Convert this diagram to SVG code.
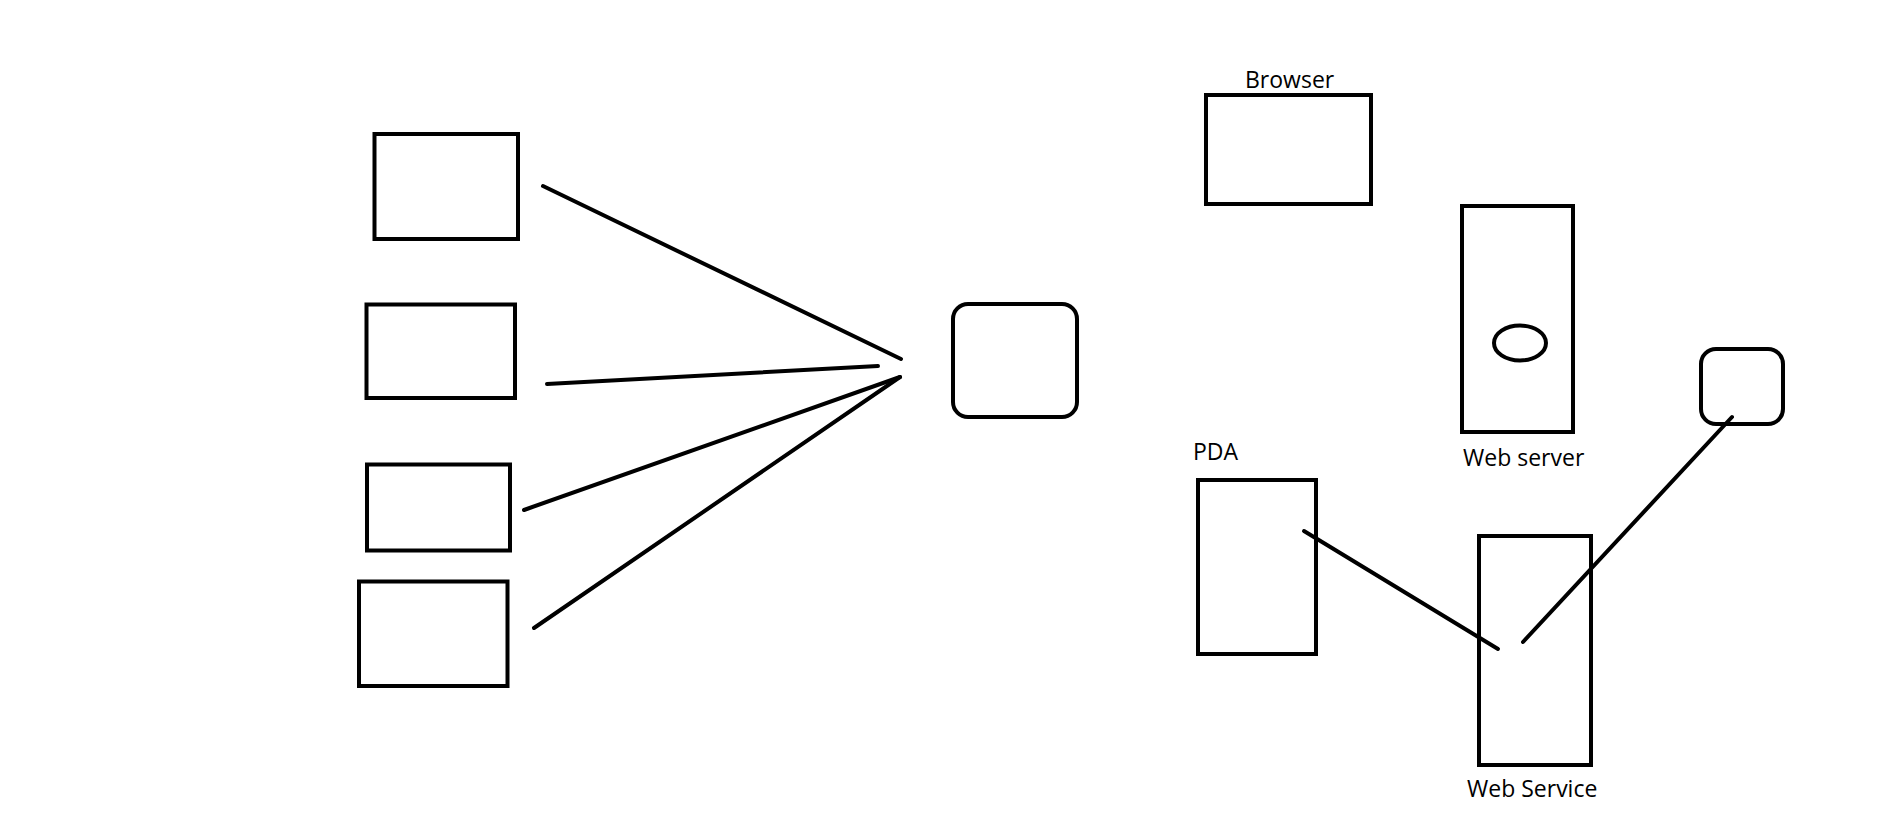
<svg xmlns="http://www.w3.org/2000/svg" width="1897" height="821" viewBox="0 0 1897 821">
<style>
.box{fill:none;stroke:#000;stroke-width:4}
.ln{stroke:#000;stroke-width:4;stroke-linecap:round;fill:none}
.lbl{font-family:"Open Sans","Liberation Sans",sans-serif;font-size:23px;fill:#000}
</style>
<rect width="1897" height="821" fill="#fff"/>
<g id="client1"><rect class="box" x="374.5" y="134" width="143.5" height="105"/></g>
<g id="client2"><rect class="box" x="366.5" y="304.5" width="148.5" height="93.5"/></g>
<g id="client3"><rect class="box" x="367" y="464.5" width="143" height="86"/></g>
<g id="client4"><rect class="box" x="359" y="581.5" width="148.5" height="104.5"/></g>
<g id="hub"><rect class="box" x="953" y="304" width="124" height="113" rx="15"/></g>
<g id="browser"><rect class="box" x="1206" y="95" width="165" height="109"/><text class="lbl" x="1245" y="88">Browser</text></g>
<g id="webserver"><rect class="box" x="1462" y="206" width="111" height="226"/><ellipse class="box" cx="1520" cy="343" rx="26" ry="17.5"/><text class="lbl" x="1463" y="466">Web server</text></g>
<g id="pda"><rect class="box" x="1198" y="480" width="118" height="174"/><text class="lbl" x="1193" y="460">PDA</text></g>
<g id="webservice"><rect class="box" x="1479" y="536" width="112" height="229"/><text class="lbl" x="1467" y="797">Web Service</text></g>
<g id="device"><rect class="box" x="1701" y="349" width="82" height="75" rx="15"/></g>
<g id="connectors">
<line class="ln" x1="543" y1="186" x2="901" y2="359"/>
<line class="ln" x1="547" y1="384" x2="878" y2="366"/>
<line class="ln" x1="524" y1="510" x2="900" y2="377"/>
<line class="ln" x1="534" y1="628" x2="900" y2="377"/>
<line class="ln" x1="1304" y1="531" x2="1498" y2="649"/>
<line class="ln" x1="1523" y1="642" x2="1732" y2="417"/>
</g>
</svg>
